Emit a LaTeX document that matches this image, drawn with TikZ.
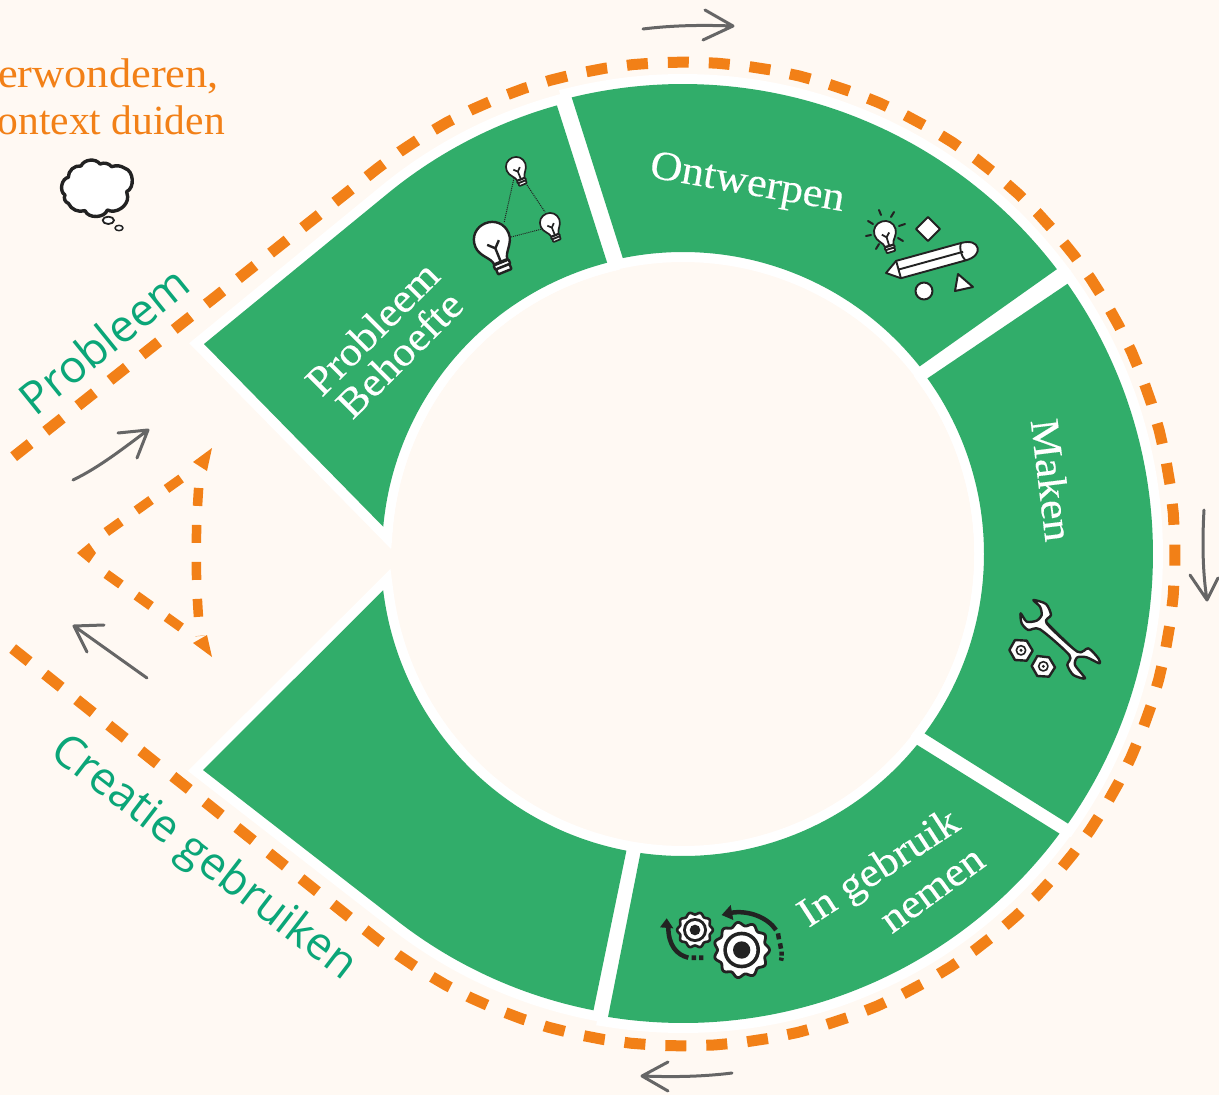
\documentclass[tikz,border=0pt]{standalone}
\usepackage{fontspec}
\setmainfont{Liberation Serif}
\newfontfamily\ringserif[FakeStretch=1.08,FakeBold=0.3]{Liberation Serif}
\newfontfamily\wideserif[FakeStretch=1.07]{Liberation Serif}
\newfontfamily\labelsans{Open Sans}
\definecolor{pagebg}{HTML}{FFF9F3}
\definecolor{ringgreen}{HTML}{31AD6A}
\definecolor{dashorange}{HTML}{F28017}
\definecolor{tealtext}{HTML}{0BA678}
\definecolor{arrowgrey}{HTML}{666666}
\definecolor{inkdark}{HTML}{222222}
\tikzset{
  halo/.style={draw=white,fill=white,line width=20pt,miter limit=10},
  seg/.style={fill=ringgreen},
  bigdash/.style={draw=dashorange,line width=11pt,dash pattern=on 21pt off 19.98pt,dash phase=38.88pt},
  smalldash/.style={draw=dashorange,line width=9.5pt,dash pattern=on 18pt off 19pt},
  greyarrow/.style={draw=arrowgrey,line width=3pt,line cap=round,line join=round},
  inside/.style={text=white,font=\ringserif\fontsize{41}{43}\selectfont,align=center},
  sidelabel/.style={text=tealtext,font=\labelsans\fontsize{45}{48}\selectfont},
  orangetext/.style={text=dashorange,anchor=east,inner sep=0pt},
  ink/.style={draw=inkdark,fill=white,line join=round},
}
% arc piece: from angle #1 to #2, radius #3, centred on the ring
\newcommand{\ringarc}[3]{plot[domain=#1:#2,samples=80] ({683+#3*cos(\x)},{554+#3*sin(\x)})}
\newcommand{\ringto}[3]{-- plot[domain=#1:#2,samples=80] ({683+#3*cos(\x)},{554+#3*sin(\x)})}
\newcommand{\bulbicon}[5]{% x y scale rotation linewidth
  \begin{scope}[shift={(#1,#2)},rotate=#4,scale=#3,line width=#5pt]
    \draw[ink] (-4,13) .. controls (-4,9) and (-10,6) .. (-10,0) .. controls (-10,-6) and (-5.5,-10) .. (0,-10) .. controls (5.5,-10) and (10,-6) .. (10,0) .. controls (10,6) and (4,9) .. (4,13) -- cycle;
    \draw[ink,rounded corners=0.7pt] (-4.5,13.5) rectangle (4.5,16);
    \draw[ink,rounded corners=0.7pt] (-4,16) rectangle (4,19);
    \draw[draw=inkdark,fill=none] (0,13) -- (0,5) -- (-3.5,1.5) (0,5) -- (3.5,1.5);
  \end{scope}}
\newcommand{\gearshape}[4]{% cx cy radius teeth
  plot[domain=0:360,samples=160,smooth] ({#1+(#3*(1+0.07*cos(#4*\x)))*cos(\x)},{#2+(#3*(1+0.07*cos(#4*\x)))*sin(\x)}) -- cycle}
\begin{document}
\begin{tikzpicture}[x=1pt,y=-1pt]
\path[fill=pagebg] (0,0) rectangle (1219,1095);
\useasboundingbox (0,0) rectangle (1219,1095);

% white halo round the segments
\path[halo] (204,344) \ringto{-129.3}{-105.7}{466} \ringto{-104.6}{-174.8}{301} -- cycle;
\path[halo] \ringarc{-103.7}{-37.3}{470} \ringto{-38.4}{-101.5}{302} -- cycle;
\path[halo] \ringarc{-35.1}{35}{470} \ringto{36.6}{-35.7}{301} -- cycle;
\path[halo] \ringarc{36.6}{99.2}{469} \ringto{98.1}{39.2}{302} -- cycle;
\path[halo] (203,770) \ringto{127.9}{101.1}{465} \ringto{100.8}{173.1}{302} -- cycle;
\fill[pagebg] (683,554) circle (291);

% green segments
\path[seg] (204,344) \ringto{-129.3}{-105.7}{466} \ringto{-104.6}{-174.8}{301} -- cycle;
\path[seg] \ringarc{-103.7}{-37.3}{470} \ringto{-38.4}{-101.5}{302} -- cycle;
\path[seg] \ringarc{-35.1}{35}{470} \ringto{36.6}{-35.7}{301} -- cycle;
\path[seg] \ringarc{36.6}{99.2}{469} \ringto{98.1}{39.2}{302} -- cycle;
\path[seg] (203,770) \ringto{127.9}{101.1}{465} \ringto{100.8}{173.1}{302} -- cycle;

% dashed teardrop
\draw[bigdash] (12,458) \ringto{-128.4}{128.6}{492} -- (12,648);

% small dashed triangle
\draw[smalldash] (106.3,532) -- (193,470);
\draw[smalldash] (106.3,574) -- (193,636);
\draw[smalldash,dash phase=19pt] (200,470) .. controls (195,530) and (195,580) .. (200,636);
\fill[dashorange] (212,448) -- (193,462) -- (207,471) -- cycle;
\fill[dashorange] (212,657) -- (193,643) -- (207,635) -- cycle;
\fill[dashorange] (77,553) -- (89,543) -- (96,553) -- (89,563) -- cycle;

% grey arrows
\draw[greyarrow] (643,29) .. controls (675,25) and (705,25) .. (733,26) (705,10) -- (733,26) -- (703,40);
\draw[greyarrow] (1204,510) .. controls (1202,545) and (1203,575) .. (1207,600) (1190,575) -- (1207,600) -- (1218,578);
\draw[greyarrow] (732,1073) .. controls (700,1077) and (670,1077) .. (642,1076) (668,1062) -- (642,1076) -- (668,1091);
\draw[greyarrow] (73,480) .. controls (100,467) and (125,447) .. (148,430) (118,433) -- (148,430) -- (137,458);
\draw[greyarrow] (147,678) -- (74,626) (104,625) -- (74,626) -- (87,652);

% texts
\node[orangetext,font=\wideserif\fontsize{41.5}{43}\selectfont] (t1) at (219,76) {erwonderen,};
\node[orangetext,font=\fontsize{41.5}{43}\selectfont] (t2) at (225,120) {ontext duiden};
\node[sidelabel,rotate=39] (sp) at (104,340) {Probleem};
\node[sidelabel,rotate=-37.5] (sc) at (203,859) {Creatie gebruiken};
\node[inside,rotate=45] (i1) at (372,328) {Probleem};
\node[inside,rotate=45] (i2) at (399,354) {Behoefte};
\node[inside,rotate=-10] (i3) at (747,185) {Ontwerpen};
\node[inside,rotate=-83] (i4) at (1052,480) {Maken};
\node[inside,rotate=33] (i5) at (880,870) {In gebruik};
\node[inside,rotate=36] (i6) at (934,892) {nemen};

% bulbs of Probleem
\draw[inkdark,densely dotted,line width=1pt] (514,178) -- (504,223) (527,185) -- (545,212) (511,237) -- (542,229);
\bulbicon{492}{240}{1.8}{22}{2.4}
\bulbicon{516}{167}{1}{22}{1.7}
\bulbicon{550}{223}{1}{22}{1.7}

% Ontwerpen icon
\bulbicon{885}{232}{1.1}{17}{1.8}
\begin{scope}[line width=2pt,line cap=round]
  \draw[inkdark] (879,210) -- (881,215) (894,212) -- (891,217) (905,224) -- (899,226) (903,241) -- (898,238) (876,249) -- (879,244) (866,236) -- (871,235) (868,221) -- (873,224);
\end{scope}
\draw[ink,line width=2pt] (928,217) -- (940,229) -- (928,241) -- (916,229) -- cycle;
\begin{scope}[shift={(886,273)},rotate=15.4,line width=1.9pt]
  \draw[ink] (0,0) -- (13,-9) -- (80,-9) .. controls (90,-9) and (95,-5) .. (95,0) .. controls (95,5) and (90,9) .. (80,9) -- (13,9) -- cycle;
  \draw[inkdark] (13,-9) -- (13,9) (13,0) -- (80,0) (80,-9) .. controls (77,-4) and (77,4) .. (80,9);
\end{scope}
\draw[ink,line width=2pt] (924,291) circle (8.5);
\draw[ink,line width=2pt] (958,274) -- (973,287) -- (955,291) -- cycle;

% wrench and nuts
\begin{scope}[shift={(990,580)},scale=1/3,line width=2.4pt]
  \draw[ink] plot[smooth cycle,tension=0.45] coordinates {(130,60) (168,72) (183,105) (170,130) (262,215) (295,205) (325,235) (328,250) (290,232) (262,232) (255,255) (285,295) (250,285) (232,255) (238,225) (150,148) (115,150) (95,130) (92,100) (110,125) (140,122) (155,105) (150,80)};
  \draw[inkdark,line width=0.8pt] (170,125) -- (258,212);
  \draw[ink] (128,212) -- (110,182) -- (75,180) -- (58,210) -- (75,240) -- (110,242) -- cycle;
  \draw[ink] (195,262) -- (177,232) -- (142,228) -- (125,258) -- (142,288) -- (177,290) -- cycle;
  \draw[ink,line width=1.6pt] (93,211) circle (14);
  \draw[ink,line width=1.6pt] (160,259) circle (14);
  \fill[inkdark] (93,211) circle (5) (160,259) circle (5);
\end{scope}

% gears
\begin{scope}[shift={(640,890)},scale=1/3]
  \draw[ink,line width=2.6pt] \gearshape{165}{120}{50}{10};
  \fill[inkdark] (165,120) circle (36);
  \fill[white] (165,120) circle (27);
  \fill[inkdark] (165,120) circle (16);
  \draw[ink,line width=2.8pt] \gearshape{305}{180}{78}{11};
  \fill[inkdark] (305,180) circle (55);
  \fill[white] (305,180) circle (44);
  \fill[inkdark] (305,180) circle (26);
  \draw[inkdark,line width=4.5pt] (85,112) .. controls (85,165) and (110,195) .. (145,203);
  \fill[inkdark] (80,85) -- (60,112) -- (100,115) -- cycle;
  \fill[inkdark] (155,196) rectangle (168,210) (177,196) rectangle (190,210);
  \draw[inkdark,line width=4.5pt] (275,68) .. controls (330,60) and (385,85) .. (408,120);
  \fill[inkdark] (245,75) -- (272,45) -- (280,90) -- cycle;
  \draw[inkdark,line width=4.5pt] (414,130) -- (417,148) (420,160) -- (423,176) (425,185) -- (425,197) (425,203) -- (423,212);
\end{scope}

% thought cloud
\begin{scope}[shift={(0,40)},scale=1/3,line width=3.4pt]
  \draw[ink] (243,378) to[bend left=60] (300,372) to[bend left=35] (335,380) to[bend left=25] (375,385) to[bend left=70] (380,455) to[bend left=20] (383,470) to[bend left=60] (322,510) to[bend left=70] (255,512) to[bend left=40] (205,490) to[bend left=50] (195,465) to[bend left=70] (205,412) to[bend left=50] (243,378) -- cycle;
  \draw[ink,line width=1.8pt] (325,541) ellipse (17 and 11);
  \draw[ink,line width=1.5pt] (357,564) ellipse (12 and 8);
\end{scope}
\end{tikzpicture}
\end{document}
